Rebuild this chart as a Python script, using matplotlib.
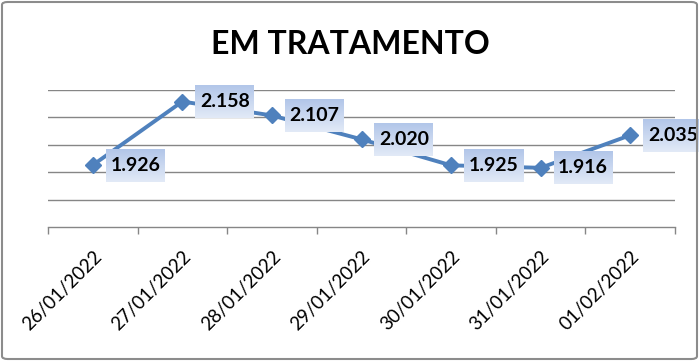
import matplotlib
matplotlib.use("Agg")
import matplotlib.pyplot as plt
import numpy as np
from matplotlib.patches import FancyBboxPatch

dates = ["26/01/2022", "27/01/2022", "28/01/2022", "29/01/2022",
         "30/01/2022", "31/01/2022", "01/02/2022"]
values = [1.926, 2.158, 2.107, 2.020, 1.925, 1.916, 2.035]
value_labels = ["1.926", "2.158", "2.107", "2.020", "1.925", "1.916", "2.035"]
title = "EM TRATAMENTO"

plt.rcParams['font.family'] = ['Lato', 'DejaVu Sans']

W, H = 699, 361
fig = plt.figure(figsize=(W / 100, H / 100), dpi=100)
ax = fig.add_axes([48 / W, 1 - 227 / H, (675 - 48) / W, (227 - 90) / H])

x = np.arange(len(values))
ax.set_xlim(-0.5, len(values) - 0.5)
ax.set_ylim(1.7, 2.2)

grid_color = "#868686"
for gy in np.arange(1.8, 2.21, 0.1):
    ax.axhline(gy, color=grid_color, lw=1.0, zorder=1)

line_color = "#4f81bd"
ax.plot(x, values, color=line_color, lw=2.8, marker="D", ms=8.5,
        markerfacecolor=line_color, markeredgecolor=line_color, zorder=3,
        solid_capstyle="round")

for s in ["top", "right", "left"]:
    ax.spines[s].set_visible(False)
ax.spines["bottom"].set_color(grid_color)
ax.spines["bottom"].set_linewidth(1.0)
ax.set_yticks([])
ax.set_xticks(np.arange(-0.5, len(values), 1.0))
ax.set_xticklabels([])
ax.tick_params(axis="x", length=5, color=grid_color, width=1.0)
ax.set_xticks(x, minor=True)
ax.set_xticklabels(dates, minor=True, rotation=45, ha="right", va="top",
                   rotation_mode="anchor", fontsize=13.5)
ax.tick_params(axis="x", which="minor", length=0, pad=15)

# gradient for labels
grad = np.linspace(0, 1, 64).reshape(-1, 1)
top = np.array([0xb2, 0xc6, 0xe9]) / 255
bot = np.array([0xe2, 0xea, 0xf7]) / 255
img = top[None, None, :] * (1 - grad[:, :, None]) + bot[None, None, :] * grad[:, :, None]

fig.canvas.draw()
inv = ax.transData.inverted()
box_w, box_h = 59, 33
for xi, v, lab in zip(x, values, value_labels):
    px, py = ax.transData.transform((xi, v))
    x0, y0 = px + 13, py - box_h / 2
    (dx0, dy0) = inv.transform((x0, y0))
    (dx1, dy1) = inv.transform((x0 + box_w, y0 + box_h))
    ax.imshow(img, extent=(dx0, dx1, dy0, dy1), aspect="auto", zorder=4,
              interpolation="bilinear", clip_on=False)
    cx, cy = inv.transform((x0 + box_w / 2, py))
    ax.text(cx, cy, lab, ha="center", va="center", fontsize=14,
            fontweight="bold", color="black", zorder=5, clip_on=False)

ax.set_xlim(-0.5, len(values) - 0.5)
ax.set_ylim(1.7, 2.2)

fig.text(350 / W, 1 - 45 / H, title, ha="center", va="center",
         fontsize=23, fontweight="bold", color="black")

border = FancyBboxPatch((2 / W, 2 / H), (W - 4) / W, (H - 4) / H,
                        boxstyle="round,pad=0,rounding_size=0.008",
                        transform=fig.transFigure, fill=False,
                        edgecolor="#8c8c8c", lw=1.5)
fig.patches.append(border)

fig.savefig("out.png", dpi=100, facecolor="white")
